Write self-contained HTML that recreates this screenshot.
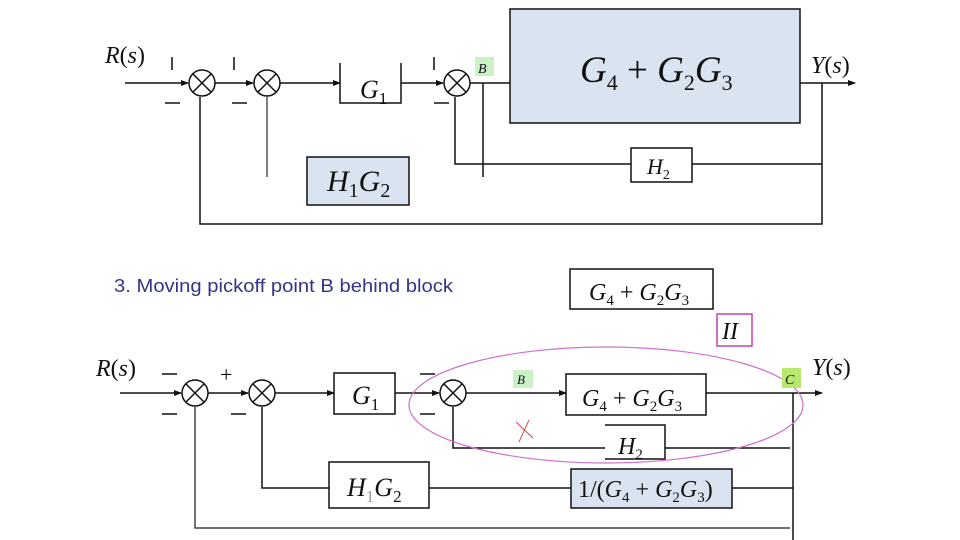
<!DOCTYPE html>
<html><head><style>body{margin:0;background:#fff}svg{display:block}
text{font-family:"Liberation Serif",serif;font-style:italic;fill:#111}
.s{font-style:normal}</style></head><body>
<svg width="960" height="540" viewBox="0 0 960 540">
<defs><marker id="a" markerWidth="8" markerHeight="8" refX="7" refY="4" orient="auto" markerUnits="userSpaceOnUse"><path d="M0,1 L8,4 L0,7z" fill="#111"/></marker></defs>
<g stroke="#111" stroke-width="1.5" fill="none">
<line x1="125" y1="83" x2="188" y2="83" marker-end="url(#a)"/>
<line x1="215" y1="83" x2="253" y2="83" marker-end="url(#a)"/>
<line x1="280" y1="83" x2="340" y2="83" marker-end="url(#a)"/>
<line x1="401" y1="83" x2="443" y2="83" marker-end="url(#a)"/>
<line x1="470" y1="83" x2="510" y2="83"/>
<line x1="800" y1="83" x2="855" y2="83" marker-end="url(#a)"/>
<circle cx="202" cy="83" r="13"/><circle cx="267" cy="83" r="13"/><circle cx="457" cy="83" r="13"/>
<path d="M193,74l18,18M211,74l-18,18M258,74l18,18M276,74l-18,18M448,74l18,18M466,74l-18,18"/>
<path d="M340,63V103H401V63"/>
<rect x="510" y="9" width="290" height="114" fill="#dae3f0"/>
<rect x="631" y="148" width="61" height="34" fill="#fff"/>
<path d="M822,83V224H200V97"/>
<path d="M822,164H692M631,164H455V97"/>
<line x1="483" y1="83" x2="483" y2="177"/>
<line x1="267" y1="177" x2="267" y2="97" stroke="#555"/>
<rect x="307" y="157" width="102" height="48" fill="#dae3f0"/>
<path d="M172,57v13M165,103h15M234,57v13M232,103h15M434,57v13M434,103h15"/>
<line x1="120" y1="393" x2="181" y2="393" marker-end="url(#a)"/>
<line x1="208" y1="393" x2="248" y2="393" marker-end="url(#a)"/>
<line x1="275" y1="393" x2="334" y2="393" marker-end="url(#a)"/>
<line x1="395" y1="393" x2="439" y2="393" marker-end="url(#a)"/>
<line x1="466" y1="393" x2="566" y2="393" marker-end="url(#a)"/>
<line x1="706" y1="393" x2="822" y2="393" marker-end="url(#a)"/>
<circle cx="195" cy="393" r="13"/><circle cx="262" cy="393" r="13"/><circle cx="453" cy="393" r="13"/>
<path d="M186,384l18,18M204,384l-18,18M253,384l18,18M271,384l-18,18M444,384l18,18M462,384l-18,18"/>
<rect x="334" y="373" width="61" height="41"/>
<rect x="566" y="374" width="140" height="41"/>
<path d="M605,425H665V459H605"/>
<path d="M793,393V540"/>
<path d="M790,448H665M605,448H453V407"/>
<path d="M793,488H732M571,488H429M329,488H262V407"/>
<path d="M790,528H195V407" stroke="#444"/>
<rect x="329" y="462" width="100" height="46"/>
<rect x="571" y="469" width="161" height="39" fill="#dae3f0"/>
<path d="M162,374h15M162,414h15M231,414h15M420,374h15M420,414h15"/>
<rect x="570" y="269" width="143" height="40"/>
<rect x="717" y="314" width="35" height="32" stroke="#c040b0"/>
<ellipse cx="606" cy="405" rx="197" ry="58" stroke="#d070d0" stroke-width="1.2"/>
<path d="M516,422l17,16M529,420l-10,22" stroke="#d05050" stroke-width="1"/>
</g>
<rect x="475" y="57" width="19" height="19" fill="#ccf0c8"/>
<rect x="513" y="370" width="20" height="18" fill="#ccf0c8"/>
<rect x="782" y="368" width="19" height="20" fill="#b8e870"/>
<text x="105" y="63" font-size="24">R<tspan class="s">(</tspan>s<tspan class="s">)</tspan></text>
<text x="811" y="73" font-size="24">Y<tspan class="s">(</tspan>s<tspan class="s">)</tspan></text>
<text x="478" y="73" font-size="14">B</text>
<text x="360" y="98" font-size="26">G<tspan class="s" font-size="17" dy="6">1</tspan></text>
<text x="580" y="82" font-size="37">G<tspan class="s" font-size="22" dy="8">4</tspan><tspan class="s" dy="-8"> + </tspan>G<tspan class="s" font-size="22" dy="8">2</tspan><tspan dy="-8">G</tspan><tspan class="s" font-size="22" dy="8">3</tspan></text>
<text x="647" y="174" font-size="22">H<tspan class="s" font-size="14" dy="5">2</tspan></text>
<text x="327" y="191" font-size="30">H<tspan class="s" font-size="20" dy="6">1</tspan><tspan dy="-6">G</tspan><tspan class="s" font-size="20" dy="6">2</tspan></text>
<text x="114" y="292" font-size="18.5" class="s" textLength="339" lengthAdjust="spacingAndGlyphs" style="font-family:'Liberation Sans',sans-serif;fill:#34348a">3. Moving pickoff point B behind block</text>
<text x="589" y="300" font-size="24">G<tspan class="s" font-size="15" dy="5">4</tspan><tspan class="s" dy="-5"> + </tspan>G<tspan class="s" font-size="15" dy="5">2</tspan><tspan dy="-5">G</tspan><tspan class="s" font-size="15" dy="5">3</tspan></text>
<text x="722" y="339" font-size="24">II</text>
<text x="96" y="376" font-size="24">R<tspan class="s">(</tspan>s<tspan class="s">)</tspan></text>
<text x="812" y="375" font-size="24">Y<tspan class="s">(</tspan>s<tspan class="s">)</tspan></text>
<text x="220" y="382" font-size="22" class="s">+</text>
<text x="517" y="384" font-size="13">B</text>
<text x="785" y="384" font-size="14">C</text>
<text x="352" y="404" font-size="26">G<tspan class="s" font-size="17" dy="6">1</tspan></text>
<text x="582" y="406" font-size="24">G<tspan class="s" font-size="15" dy="5">4</tspan><tspan class="s" dy="-5"> + </tspan>G<tspan class="s" font-size="15" dy="5">2</tspan><tspan dy="-5">G</tspan><tspan class="s" font-size="15" dy="5">3</tspan></text>
<text x="618" y="454" font-size="24">H<tspan class="s" font-size="15" dy="5">2</tspan></text>
<text x="347" y="496" font-size="26">H<tspan class="s" font-size="17" dy="6" style="fill:#999">1</tspan><tspan dy="-6">G</tspan><tspan class="s" font-size="17" dy="6">2</tspan></text>
<text x="578" y="497" font-size="24" class="s">1/(<tspan style="font-style:italic">G</tspan><tspan font-size="15" dy="5">4</tspan><tspan dy="-5"> + </tspan><tspan style="font-style:italic">G</tspan><tspan font-size="15" dy="5">2</tspan><tspan dy="-5" style="font-style:italic">G</tspan><tspan font-size="15" dy="5">3</tspan><tspan dy="-5">)</tspan></text>
</svg>
</body></html>
